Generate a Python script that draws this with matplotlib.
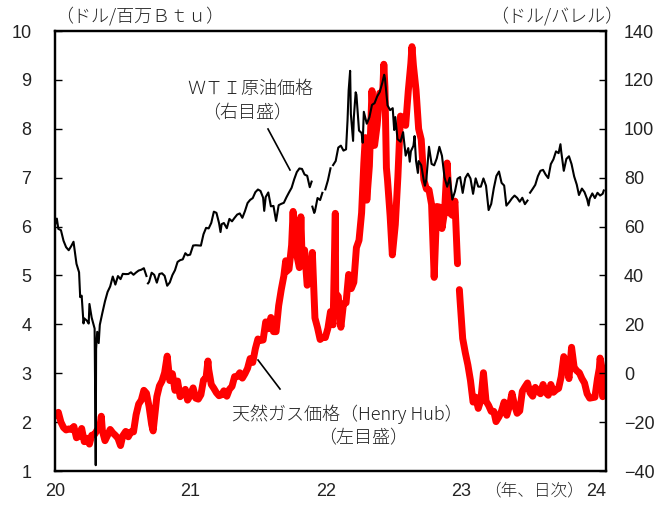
import numpy as np
import pandas as pd
import matplotlib
matplotlib.use("Agg")
import matplotlib.pyplot as plt

nan = np.nan

# WTI crude oil, front-month settlement (USD / barrel)
wti_dates = [
    "2020-01-02", "2020-01-06", "2020-01-10", "2020-01-17", "2020-01-24", "2020-01-31",
    "2020-02-07", "2020-02-14", "2020-02-20", "2020-02-28", "2020-03-06", "2020-03-09",
    "2020-03-13", "2020-03-18", "2020-03-20", "2020-03-27", "2020-04-01", "2020-04-03",
    "2020-04-09", "2020-04-17", "2020-04-20", "2020-04-21", "2020-04-24", "2020-04-28",
    "2020-05-01", "2020-05-08", "2020-05-15", "2020-05-22", "2020-05-29", "2020-06-05",
    "2020-06-12", "2020-06-19", "2020-06-26", "2020-07-02", "2020-07-10", "2020-07-17",
    "2020-07-24", "2020-07-31", "2020-08-07", "2020-08-14", "2020-08-21", "2020-08-28",
    "2020-09-04", "2020-09-07", "2020-09-08", "2020-09-11", "2020-09-18", "2020-09-25",
    "2020-10-02", "2020-10-09", "2020-10-16", "2020-10-23", "2020-10-30", "2020-11-06",
    "2020-11-13", "2020-11-20", "2020-11-27", "2020-12-04", "2020-12-11", "2020-12-18",
    "2020-12-24", "2020-12-31",
    "2021-01-08", "2021-01-15", "2021-01-22", "2021-01-29", "2021-02-05", "2021-02-12",
    "2021-02-19", "2021-02-26", "2021-03-05", "2021-03-12", "2021-03-19", "2021-03-23",
    "2021-03-26", "2021-04-01", "2021-04-09", "2021-04-16", "2021-04-23", "2021-04-30",
    "2021-05-07", "2021-05-14", "2021-05-21", "2021-05-28", "2021-06-04", "2021-06-11",
    "2021-06-18", "2021-06-25", "2021-07-02", "2021-07-09", "2021-07-16", "2021-07-19",
    "2021-07-23", "2021-07-30", "2021-08-06", "2021-08-13", "2021-08-20", "2021-08-27",
    "2021-09-03", "2021-09-10", "2021-09-17", "2021-09-24", "2021-10-01", "2021-10-08",
    "2021-10-15", "2021-10-22", "2021-10-29", "2021-11-05", "2021-11-12", "2021-11-19",
    "2021-11-24", "2021-11-25", "2021-11-26", "2021-12-01", "2021-12-03", "2021-12-10",
    "2021-12-17", "2021-12-23", "2021-12-24", "2021-12-31",
    "2022-01-07", "2022-01-14", "2022-01-17", "2022-01-21", "2022-01-28", "2022-02-04",
    "2022-02-11", "2022-02-18", "2022-02-25", "2022-03-01", "2022-03-04", "2022-03-08",
    "2022-03-10", "2022-03-16", "2022-03-18", "2022-03-23", "2022-03-25", "2022-04-01",
    "2022-04-08", "2022-04-11", "2022-04-14", "2022-04-22", "2022-04-29", "2022-05-06",
    "2022-05-13", "2022-05-20", "2022-05-27", "2022-06-03", "2022-06-08", "2022-06-10",
    "2022-06-17", "2022-06-24", "2022-07-01", "2022-07-05", "2022-07-08", "2022-07-14",
    "2022-07-22", "2022-07-29", "2022-08-05", "2022-08-12", "2022-08-16", "2022-08-19",
    "2022-08-26", "2022-08-29", "2022-09-02", "2022-09-07", "2022-09-09", "2022-09-16",
    "2022-09-23", "2022-09-26", "2022-09-30", "2022-10-07", "2022-10-14", "2022-10-21",
    "2022-10-28", "2022-11-04", "2022-11-11", "2022-11-18", "2022-11-25", "2022-12-02",
    "2022-12-09", "2022-12-16", "2022-12-23", "2022-12-30",
    "2023-01-06", "2023-01-13", "2023-01-20", "2023-01-27", "2023-02-03", "2023-02-10",
    "2023-02-17", "2023-02-24", "2023-03-03", "2023-03-10", "2023-03-17", "2023-03-24",
    "2023-03-31", "2023-04-07", "2023-04-14", "2023-04-21", "2023-04-28", "2023-05-04",
    "2023-05-12", "2023-05-19", "2023-05-26", "2023-06-02", "2023-06-09", "2023-06-16",
    "2023-06-23", "2023-06-30", "2023-07-04", "2023-07-07", "2023-07-14", "2023-07-21",
    "2023-07-28", "2023-08-04", "2023-08-11", "2023-08-18", "2023-08-25", "2023-09-01",
    "2023-09-08", "2023-09-15", "2023-09-22", "2023-09-27", "2023-09-29", "2023-10-06",
    "2023-10-13", "2023-10-20", "2023-10-27", "2023-11-03", "2023-11-10", "2023-11-16",
    "2023-11-24", "2023-12-01", "2023-12-08", "2023-12-12", "2023-12-15", "2023-12-22",
    "2023-12-29",
    "2024-01-05", "2024-01-12", "2024-01-19", "2024-01-22",
]
wti_prices = [
    61.18, 63.27, 59.04, 58.54, 54.19, 51.56,
    50.32, 52.05, 53.78, 44.76, 41.28, 31.13,
    31.73, 20.37, 22.43, 21.51, 20.31, 28.34,
    22.76, 18.27, -37.63, 10.01, 16.94, 12.34,
    19.78, 24.74, 29.43, 33.25, 35.49, 39.55,
    36.26, 39.75, 38.49, 40.65, 40.55, 40.59,
    41.29, 40.27, 41.22, 42.01, 42.34, 42.97,
    39.77, nan, 36.76, 37.33, 41.11, 40.25,
    37.05, 40.60, 40.88, 39.85, 35.79, 37.14,
    40.13, 42.15, 45.53, 46.26, 46.57, 49.10,
    48.23, 48.52,
    52.24, 52.36, 52.27, 52.20, 56.85, 59.47,
    59.24, 61.50, 66.09, 65.61, 61.42, 57.76,
    60.97, 61.45, 59.32, 63.13, 62.14, 63.58,
    64.90, 65.37, 63.58, 66.32, 69.62, 70.91,
    71.64, 74.05, 75.16, 74.56, 71.81, 66.42,
    72.07, 73.95, 68.28, 68.44, 62.32, 68.74,
    69.29, 69.72, 71.97, 73.98, 75.88, 79.35,
    82.28, 83.76, 83.57, 81.27, 80.79, 76.10,
    78.39, nan, 68.15, 65.57, 66.26, 71.67,
    70.86, 73.79, nan, 75.21,
    78.90, 83.82, nan, 85.14, 86.82, 92.31,
    93.10, 91.07, 91.59, 103.41, 115.68, 123.70,
    106.02, 95.04, 104.70, 114.93, 113.90, 99.27,
    98.26, 94.29, 106.95, 102.07, 104.69, 109.77,
    110.49, 113.23, 115.07, 118.87, 122.11, 120.67,
    109.56, 107.62, 108.43, 99.50, 104.79, 95.78,
    94.70, 98.62, 89.01, 92.09, 86.53, 90.77,
    93.06, 97.01, 86.87, 81.94, 86.79, 85.11,
    78.74, 76.71, 79.49, 92.64, 85.61, 85.05,
    87.90, 92.61, 88.96, 80.08, 76.28, 79.98,
    71.02, 74.29, 79.56, 80.26,
    73.77, 79.86, 81.64, 79.68, 73.39, 79.72,
    76.34, 76.32, 79.68, 76.68, 66.74, 69.26,
    75.67, 80.70, 82.52, 77.87, 76.78, 68.56,
    70.04, 71.55, 72.67, 71.74, 70.17, 71.78,
    69.16, 70.64, nan, 73.86, 75.42, 77.07,
    80.58, 82.82, 83.19, 81.25, 79.83, 85.55,
    87.51, 90.77, 90.03, 93.68, 90.79, 82.79,
    87.69, 88.75, 85.54, 80.51, 77.17, 72.90,
    75.54, 74.07, 71.23, 68.61, 71.43, 73.56,
    71.65,
    73.81, 72.68, 73.41, 74.76,
]

# Henry Hub natural gas, front-month settlement (USD / million Btu)
gas_dates = [
    "2020-01-03", "2020-01-10", "2020-01-17", "2020-01-24", "2020-01-31", "2020-02-07",
    "2020-02-14", "2020-02-21", "2020-02-28", "2020-03-06", "2020-03-13", "2020-03-20",
    "2020-03-27", "2020-04-03", "2020-04-09", "2020-04-17", "2020-04-24", "2020-05-01",
    "2020-05-05", "2020-05-08", "2020-05-15", "2020-05-22", "2020-05-29", "2020-06-05",
    "2020-06-12", "2020-06-19", "2020-06-26", "2020-07-02", "2020-07-10", "2020-07-17",
    "2020-07-24", "2020-07-31", "2020-08-07", "2020-08-14", "2020-08-21", "2020-08-28",
    "2020-09-04", "2020-09-11", "2020-09-18", "2020-09-22", "2020-10-02", "2020-10-09",
    "2020-10-16", "2020-10-23", "2020-10-30", "2020-11-06", "2020-11-13", "2020-11-20",
    "2020-11-27", "2020-12-04", "2020-12-11", "2020-12-18", "2020-12-24", "2020-12-31",
    "2021-01-08", "2021-01-15", "2021-01-22", "2021-01-29", "2021-02-05", "2021-02-12",
    "2021-02-17", "2021-02-19", "2021-02-26", "2021-03-05", "2021-03-12", "2021-03-19",
    "2021-03-26", "2021-04-01", "2021-04-09", "2021-04-16", "2021-04-23", "2021-04-30",
    "2021-05-07", "2021-05-14", "2021-05-21", "2021-05-28", "2021-06-04", "2021-06-11",
    "2021-06-18", "2021-06-25", "2021-07-02", "2021-07-09", "2021-07-16", "2021-07-23",
    "2021-07-30", "2021-08-06", "2021-08-13", "2021-08-20", "2021-08-27", "2021-09-03",
    "2021-09-10", "2021-09-15", "2021-09-17", "2021-09-24", "2021-10-01", "2021-10-05",
    "2021-10-08", "2021-10-15", "2021-10-22", "2021-10-26", "2021-10-29", "2021-11-05",
    "2021-11-12", "2021-11-19", "2021-11-26", "2021-12-03", "2021-12-10", "2021-12-17",
    "2021-12-23", "2021-12-31",
    "2022-01-07", "2022-01-14", "2022-01-21", "2022-01-27", "2022-01-28", "2022-02-04",
    "2022-02-11", "2022-02-18", "2022-02-25", "2022-03-04", "2022-03-11", "2022-03-18",
    "2022-03-25", "2022-04-01", "2022-04-08", "2022-04-14", "2022-04-18", "2022-04-22",
    "2022-04-29", "2022-05-06", "2022-05-13", "2022-05-20", "2022-05-27", "2022-06-03",
    "2022-06-07", "2022-06-10", "2022-06-14", "2022-06-17", "2022-06-24", "2022-06-30",
    "2022-07-08", "2022-07-15", "2022-07-22", "2022-07-29", "2022-08-05", "2022-08-12",
    "2022-08-19", "2022-08-22", "2022-08-26", "2022-09-02", "2022-09-09", "2022-09-16",
    "2022-09-23", "2022-09-30", "2022-10-07", "2022-10-14", "2022-10-21", "2022-10-28",
    "2022-11-04", "2022-11-11", "2022-11-18", "2022-11-25", "2022-12-02", "2022-12-09",
    "2022-12-16", "2022-12-23", "2022-12-27", "2022-12-28", "2022-12-30",
    "2023-01-06", "2023-01-13", "2023-01-20", "2023-01-27", "2023-02-03", "2023-02-10",
    "2023-02-17", "2023-02-24", "2023-03-03", "2023-03-10", "2023-03-17", "2023-03-24",
    "2023-03-31", "2023-04-06", "2023-04-14", "2023-04-21", "2023-04-28", "2023-05-05",
    "2023-05-12", "2023-05-19", "2023-05-26", "2023-06-02", "2023-06-09", "2023-06-16",
    "2023-06-23", "2023-06-30", "2023-07-07", "2023-07-14", "2023-07-21", "2023-07-28",
    "2023-08-04", "2023-08-11", "2023-08-18", "2023-08-25", "2023-09-01", "2023-09-08",
    "2023-09-15", "2023-09-22", "2023-09-29", "2023-10-06", "2023-10-13", "2023-10-20",
    "2023-10-27", "2023-11-03", "2023-11-10", "2023-11-17", "2023-11-24", "2023-12-01",
    "2023-12-08", "2023-12-15", "2023-12-22", "2023-12-29",
    "2024-01-05", "2024-01-10", "2024-01-12", "2024-01-16", "2024-01-19", "2024-01-22",
]
gas_prices = [
    2.13, 2.20, 2.00, 1.89, 1.84, 1.86,
    1.85, 1.91, 1.68, 1.71, 1.87, 1.60,
    1.67, 1.55, 1.73, 1.75, 1.84, 1.89,
    2.12, 1.82, 1.62, 1.73, 1.85, 1.78,
    1.73, 1.67, 1.52, 1.72, 1.81, 1.70,
    1.80, 1.80, 2.15, 2.37, 2.45, 2.65,
    2.59, 2.32, 1.95, 1.82, 2.52, 2.74,
    2.84, 3.01, 3.35, 2.85, 2.99, 2.65,
    2.84, 2.52, 2.58, 2.67, 2.45, 2.54,
    2.70, 2.49, 2.47, 2.56, 2.86, 2.91,
    3.25, 3.08, 2.77, 2.69, 2.60, 2.54,
    2.56, 2.64, 2.53, 2.67, 2.73, 2.93,
    2.93, 3.01, 2.90, 2.99, 3.10, 3.30,
    3.22, 3.50, 3.70, 3.67, 3.68, 4.05,
    3.91, 4.14, 3.85, 3.85, 4.38, 4.71,
    4.99, 5.30, 5.08, 5.13, 5.62, 6.31,
    5.69, 5.41, 5.16, 6.20, 5.43, 5.52,
    4.80, 4.92, 5.47, 4.13, 3.93, 3.69,
    3.73, 3.73,
    3.92, 4.26, 3.99, 6.27, 4.64, 4.57,
    3.94, 4.42, 4.44, 5.02, 4.73, 4.86,
    5.57, 5.72, 6.28, 7.30, 7.82, 6.54,
    7.24, 8.78, 7.66, 8.08, 8.73, 8.52,
    9.32, 8.85, 7.20, 6.95, 6.22, 5.42,
    6.04, 7.02, 8.26, 8.23, 8.07, 8.77,
    9.34, 9.68, 9.29, 8.79, 8.00, 7.78,
    6.96, 6.77, 6.75, 6.45, 4.96, 6.41,
    6.40, 5.96, 6.30, 7.30, 6.28, 6.23,
    6.52, 5.24, nan, 4.71, 4.48,
    3.71, 3.42, 3.17, 2.85, 2.41, 2.51,
    2.28, 2.45, 3.01, 2.43, 2.34, 2.22,
    2.22, 2.01, 2.11, 2.23, 2.41, 2.14,
    2.32, 2.59, 2.35, 2.18, 2.23, 2.63,
    2.72, 2.80, 2.60, 2.53, 2.71, 2.63,
    2.58, 2.77, 2.61, 2.55, 2.77, 2.61,
    2.66, 2.69, 2.93, 3.34, 3.21, 2.89,
    3.53, 3.12, 3.05, 3.01, 2.89, 2.80,
    2.58, 2.49, 2.50, 2.51,
    2.89, 3.10, 3.31, 3.15, 2.52, 2.65,
]

gas_ticks = list(range(1, 11))
wti_ticks = list(range(-40, 141, 20))
year_ticks = ["2020-01-01", "2021-01-01", "2022-01-01", "2023-01-01", "2024-01-01"]
year_labels = ["20", "21", "22", "23", "24"]

W, H = 666, 507
plt.rcParams["font.family"] = ["Noto Sans CJK JP", "DejaVu Sans"]
TXT = "#222222"
NUM_FONT = ["Liberation Sans Narrow", "Liberation Sans", "DejaVu Sans"]
JP_SIZE = 13
JP_WEIGHT = "light"


def fx(x):
    return x / W


def fy(y):
    return 1 - y / H


fig = plt.figure(figsize=(W / 100, H / 100), dpi=100)
ax = fig.add_axes([fx(55), fy(471), fx(606 - 55), (471 - 31) / H])
ax2 = ax.twinx()

gas_x = pd.to_datetime(gas_dates)
wti_x = pd.to_datetime(wti_dates)

ax.plot(gas_x, gas_prices, color="#ff0000", lw=5.0,
        solid_joinstyle="round", solid_capstyle="round")
ax2.plot(wti_x, wti_prices, color="black", lw=1.5, solid_joinstyle="round")

ax.set_xlim(pd.Timestamp("2020-01-01"), pd.Timestamp("2024-01-28"))
ax.set_ylim(1, 10)
ax2.set_ylim(-40, 140)

ax.set_yticks(gas_ticks)
ax2.set_yticks(wti_ticks)
ax.set_xticks(pd.to_datetime(year_ticks))
ax.set_xticklabels(year_labels)

for a in (ax, ax2):
    for s in a.spines.values():
        s.set_linewidth(1.6)
        s.set_color("black")

ax.tick_params(axis="y", direction="in", length=5, width=1, pad=17,
               labelsize=13, labelcolor=TXT)
ax2.tick_params(axis="y", direction="in", length=5, width=1, pad=13,
                labelsize=13, labelcolor=TXT)
ax.tick_params(axis="x", length=0, pad=9, labelsize=13, labelcolor=TXT)
for lab in ax.get_yticklabels() + ax2.get_yticklabels() + ax.get_xticklabels():
    lab.set_family(NUM_FONT)

jp = dict(fontsize=JP_SIZE, color=TXT, fontweight=JP_WEIGHT, va="center")

# unit captions
fig.text(fx(55), fy(16), "（ドル/百万Ｂｔｕ）", ha="left", **jp)
fig.text(fx(623), fy(16), "（ドル/バレル）", ha="right", **jp)
fig.text(fx(484), fy(491), "（年、日次）", ha="left",
         **{**jp, "fontsize": 12})

# series labels with leader lines
fig.text(fx(250), fy(89), "ＷＴＩ原油価格", ha="center", **jp)
fig.text(fx(247), fy(113), "（右目盛）", ha="center", **jp)
fig.add_artist(plt.Line2D([fx(268), fx(290)], [fy(129), fy(170)],
                          color="black", lw=1.2))

fig.text(fx(232), fy(414), "天然ガス価格（Henry Hub）", ha="left", **jp)
fig.text(fx(363), fy(438), "（左目盛）", ha="center", **jp)
fig.add_artist(plt.Line2D([fx(258), fx(280)], [fy(360), fy(389)],
                          color="black", lw=1.2))

fig.savefig("out.png", dpi=100)
